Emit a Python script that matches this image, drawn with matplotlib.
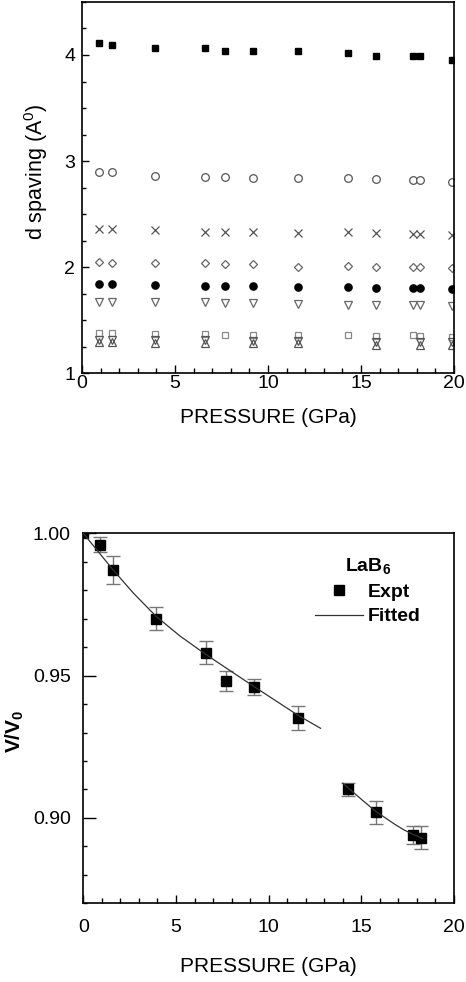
from __future__ import annotations

import matplotlib

matplotlib.use("Agg")
import matplotlib.pyplot as plt
from matplotlib.lines import Line2D
from matplotlib.ticker import FormatStrFormatter, MultipleLocator

plt.rcParams["font.family"] = ["Liberation Sans", "DejaVu Sans"]
plt.rcParams["mathtext.fontset"] = "custom"
plt.rcParams["mathtext.rm"] = "Liberation Sans"
plt.rcParams["mathtext.bf"] = "Liberation Sans:bold"

# d spacing vs pressure (top panel)
pressure = [0.9, 1.6, 3.9, 6.6, 7.7, 9.2, 11.6, 14.3, 15.8, 17.8, 18.2, 19.9]
d_filled_square = [4.11, 4.09, 4.07, 4.07, 4.04, 4.04, 4.04, 4.02, 3.99, 3.99, 3.99, 3.95]
d_open_circle = [2.90, 2.90, 2.86, 2.85, 2.85, 2.84, 2.84, 2.84, 2.83, 2.82, 2.82, 2.80]
d_cross = [2.36, 2.36, 2.35, 2.33, 2.33, 2.33, 2.32, 2.33, 2.32, 2.31, 2.31, 2.30]
d_diamond = [2.05, 2.04, 2.04, 2.04, 2.03, 2.03, 2.00, 2.01, 2.00, 2.00, 2.00, 1.99]
d_filled_circle = [1.84, 1.84, 1.83, 1.82, 1.82, 1.82, 1.81, 1.81, 1.80, 1.80, 1.80, 1.79]
d_tri_down = [1.67, 1.67, 1.67, 1.67, 1.66, 1.66, 1.65, 1.64, 1.64, 1.64, 1.64, 1.63]
d_open_square = [1.38, 1.38, 1.37, 1.37, 1.36, 1.36, 1.36, 1.36, 1.35, 1.36, 1.35, 1.34]

# the two lowest reflections are only seen at some pressures
pressure_low = [0.9, 1.6, 3.9, 6.6, 9.2, 11.6, 15.8, 18.2, 19.9]
d_low_a = [1.315, 1.315, 1.31, 1.31, 1.305, 1.30, 1.295, 1.295, 1.29]
d_low_b = [1.29, 1.29, 1.285, 1.285, 1.28, 1.28, 1.27, 1.27, 1.265]

# V/V0 vs pressure (bottom panel)
expt_p = [0.0, 0.9, 1.6, 3.9, 6.6, 7.7, 9.2, 11.6, 14.3, 15.8, 17.8, 18.2]
expt_v = [1.000, 0.996, 0.987, 0.970, 0.958, 0.948, 0.946, 0.935, 0.910, 0.902, 0.894, 0.893]
expt_err = [0.0, 0.0027, 0.0049, 0.0040, 0.0040, 0.0035, 0.0027, 0.0042, 0.0022, 0.0040, 0.0030, 0.0040]

fit1_p = [0.0, 0.9, 1.6, 2.7, 3.9, 5.2, 6.6, 7.7, 9.2, 10.4, 11.6, 12.8]
fit1_v = [1.000, 0.9928, 0.9872, 0.9790, 0.9710, 0.9640, 0.9575, 0.9527, 0.9462, 0.9411, 0.9360, 0.9315]
fit2_p = [14.0, 14.3, 15.1, 15.8, 16.3, 16.8, 17.3, 17.8, 18.3]
fit2_v = [0.9122, 0.9105, 0.9060, 0.9022, 0.9000, 0.8978, 0.8958, 0.8942, 0.8928]


def _style_axes(ax, xpad, ypad):
    for spine in ax.spines.values():
        spine.set_linewidth(1.2)
    ax.set_xlim(0, 20)
    ax.xaxis.set_major_locator(MultipleLocator(5))
    ax.xaxis.set_minor_locator(MultipleLocator(1))
    ax.tick_params(axis="x", which="major", direction="in", length=6, width=1, pad=xpad, labelsize=14)
    ax.tick_params(axis="x", which="minor", direction="in", length=3.5, width=1)
    ax.tick_params(axis="y", which="major", direction="in", length=5, width=1, pad=ypad, labelsize=14)
    ax.tick_params(axis="y", which="minor", direction="in", length=3, width=1)


def _plot_top(fig):
    ax = fig.add_axes([0.176, 0.620, 0.798, 0.378])
    kw = dict(linestyle="none", clip_on=True)
    ax.plot(pressure, d_filled_square, marker="s", ms=4.6, color="black", **kw)
    ax.plot(pressure, d_open_circle, marker="o", ms=5.5, mfc="white", mec="#555555", mew=0.9, **kw)
    ax.plot(pressure, d_cross, marker="x", ms=6.3, color="#555555", mew=0.9, **kw)
    ax.plot(pressure, d_diamond, marker="D", ms=4.4, mfc="white", mec="#666666", mew=0.9, **kw)
    ax.plot(pressure, d_filled_circle, marker="o", ms=5.2, color="black", **kw)
    ax.plot(pressure, d_tri_down, marker="v", ms=5.8, mfc="white", mec="#666666", mew=0.9, **kw)
    ax.plot(pressure, d_open_square, marker="s", ms=4.5, mfc="white", mec="#888888", mew=0.9, **kw)
    ax.plot(pressure_low, d_low_a, marker="v", ms=5.5, mfc="none", mec="#555555", mew=0.9, **kw)
    ax.plot(pressure_low, d_low_b, marker="^", ms=5.5, mfc="none", mec="#555555", mew=0.9, **kw)

    _style_axes(ax, xpad=1.5, ypad=5)
    ax.set_ylim(1, 4.5)
    ax.yaxis.set_major_locator(MultipleLocator(1))
    ax.yaxis.set_minor_locator(MultipleLocator(0.25))
    ax.set_xlabel("PRESSURE (GPa)", fontsize=15, va="top")
    ax.xaxis.set_label_coords(0.5, -0.095)
    ax.set_ylabel("d spaving (A$^0$)", fontsize=15.5, va="center")
    ax.yaxis.set_label_coords(-0.124, 0.542)


def _plot_bottom(fig):
    ax = fig.add_axes([0.1788, 0.0801, 0.7955, 0.3768])
    ax.errorbar(expt_p, expt_v, yerr=expt_err, fmt="none", ecolor="#777777",
                elinewidth=1, capsize=4.8, capthick=1, zorder=2)
    ax.plot(expt_p, expt_v, linestyle="none", marker="s", ms=7.2, color="black", zorder=3)
    ax.plot(fit1_p, fit1_v, color="#333333", lw=0.9, zorder=4)
    ax.plot(fit2_p, fit2_v, color="#333333", lw=0.9, zorder=4)

    _style_axes(ax, xpad=11, ypad=9)
    ax.set_ylim(0.87, 1.0)
    ax.yaxis.set_major_locator(MultipleLocator(0.05))
    ax.yaxis.set_minor_locator(MultipleLocator(0.01))
    ax.yaxis.set_major_formatter(FormatStrFormatter("%.2f"))
    ax.tick_params(axis="y", which="major", length=9)
    ax.set_xlabel("PRESSURE (GPa)", fontsize=15, va="top")
    ax.xaxis.set_label_coords(0.5, -0.146)
    ax.set_ylabel("V/V$_\\mathbf{0}$", fontsize=15, fontweight="bold", va="center")
    ax.yaxis.set_label_coords(-0.184, 0.466)

    handles = [
        Line2D([], [], linestyle="none", marker="s", ms=7.2, color="black"),
        Line2D([], [], color="#333333", lw=0.9),
    ]
    leg = ax.legend(handles, ["Expt", "Fitted"], title="LaB$_\\mathbf{6}$",
                    loc="upper left", bbox_to_anchor=(0.625, 0.938), frameon=False,
                    borderpad=0, borderaxespad=0, handlelength=2.45, handletextpad=0.28,
                    labelspacing=0.35, prop={"weight": "bold", "size": 14},
                    title_fontproperties={"weight": "bold", "size": 14})
    leg._legend_box.align = "center"


def main() -> None:
    fig = plt.figure(figsize=(4.66, 9.82), dpi=100)
    _plot_top(fig)
    _plot_bottom(fig)
    fig.savefig("out.png", dpi=100)
    plt.close(fig)


if __name__ == "__main__":
    main()
